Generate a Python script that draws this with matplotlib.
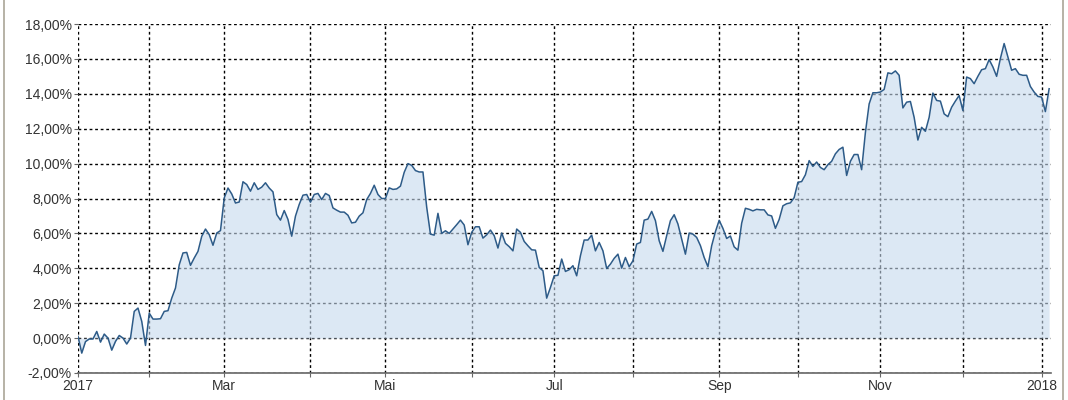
import numpy as np
import pandas as pd
import matplotlib
matplotlib.use("Agg")
import matplotlib.pyplot as plt
from matplotlib.ticker import FixedLocator, FuncFormatter
from matplotlib.lines import Line2D

plt.rcParams["font.family"] = ["Liberation Sans", "DejaVu Sans"]

# === Data: cumulative performance (%) per trading day ===
start_date = "2017-01-05"
end_date = "2018-01-03"
perf = [
    0.1, -0.86, -0.2, -0.05, -0.05, 0.38, -0.23, 0.23, 0.0, -0.69,
    -0.19, 0.15, 0.0, -0.34, 0.0, 1.53, 1.72, 0.96, -0.42, 1.43,
    1.09, 1.09, 1.11, 1.53, 1.57, 2.29, 2.87, 4.2, 4.88, 4.91,
    4.17, 4.59, 4.97, 5.83, 6.25, 5.93, 5.32, 6.02, 6.16, 8.03,
    8.6, 8.26, 7.74, 7.8, 8.96, 8.8, 8.42, 8.9, 8.52, 8.65,
    8.9, 8.6, 8.38, 7.08, 6.76, 7.31, 6.8, 5.84, 6.99, 7.66,
    8.19, 8.23, 7.79, 8.23, 8.29, 7.94, 8.29, 8.17, 7.46, 7.33,
    7.22, 7.22, 7.04, 6.6, 6.64, 6.99, 7.18, 7.94, 8.29, 8.76,
    8.23, 8.0, 8.0, 8.61, 8.52, 8.55, 8.71, 9.5, 10.0, 9.9,
    9.6, 9.52, 9.52, 7.5, 5.96, 5.9, 7.15, 6.0, 6.15, 6.0,
    6.25, 6.5, 6.76, 6.48, 5.35, 6.06, 6.38, 6.38, 5.73, 5.92,
    6.19, 5.87, 5.16, 6.02, 5.43, 5.24, 5.0, 6.25, 6.06, 5.54,
    5.29, 5.06, 5.04, 4.05, 3.86, 2.29, 2.9, 3.57, 3.6, 4.53,
    3.82, 3.92, 4.15, 3.57, 4.72, 5.62, 5.62, 5.9, 5.0, 5.48,
    5.0, 3.99, 4.24, 4.57, 4.81, 4.01, 4.62, 4.09, 4.43, 5.39,
    5.48, 6.76, 6.82, 7.26, 6.73, 5.58, 4.97, 5.87, 6.73, 7.07,
    6.54, 5.67, 4.81, 6.02, 5.96, 5.77, 5.3, 4.62, 4.09, 5.29,
    6.1, 6.75, 6.29, 5.71, 5.85, 5.23, 5.04, 6.58, 7.44, 7.38,
    7.29, 7.38, 7.35, 7.35, 7.06, 7.0, 6.29, 6.8, 7.58, 7.7,
    7.75, 8.05, 8.93, 8.97, 9.36, 10.17, 9.84, 10.09, 9.78, 9.65,
    9.94, 10.13, 10.56, 10.81, 10.94, 9.32, 10.13, 10.52, 10.52, 9.65,
    11.78, 13.42, 14.06, 14.06, 14.1, 14.25, 15.2, 15.15, 15.31, 15.06,
    13.19, 13.52, 13.56, 12.65, 11.35, 12.08, 11.85, 12.65, 14.04, 13.62,
    13.58, 12.85, 12.69, 13.23, 13.58, 13.9, 13.04, 14.96, 14.87, 14.58,
    15.0, 15.38, 15.44, 15.96, 15.54, 15.0, 16.02, 16.88, 16.12, 15.35,
    15.44, 15.12, 15.06, 15.06, 14.42, 14.1, 13.85, 13.81, 12.98, 14.29,
]
month_names = {3: "Mar", 5: "Mai", 7: "Jul", 9: "Sep", 11: "Nov"}
y_ticks = [-2, 0, 2, 4, 6, 8, 10, 12, 14, 16, 18]

days = pd.bdate_range(start_date, end_date)
x = np.arange(len(days))

# month starts -> gridlines, every second one labelled
month_idx = [i for i in range(len(days)) if i == 0 or days[i].month != days[i - 1].month]
month_lbl = []
for i in month_idx:
    d = days[i]
    if d.month == 1:
        month_lbl.append(str(d.year))
    else:
        month_lbl.append(month_names.get(d.month, ""))

# === Figure ===
fig = plt.figure(figsize=(10.68, 4.0), dpi=100)
ax = fig.add_axes([78 / 1068, 27 / 400, (1051 - 78) / 1068, (373 - 24) / 400])

ax.fill_between(x, perf, 0, color=(198 / 255, 217 / 255, 237 / 255), alpha=0.6, lw=0, zorder=2)
ax.plot(x, perf, color="#2d5b88", lw=1.1, zorder=3)

ax.set_xlim(0, 259.5)
ax.set_ylim(-2, 18)

ax.xaxis.set_major_locator(FixedLocator(month_idx))
ax.set_xticklabels(month_lbl)
ax.yaxis.set_major_locator(FixedLocator(y_ticks))
ax.yaxis.set_major_formatter(FuncFormatter(lambda v, p: f"{v:.2f}%".replace(".", ",")))

ax.set_axisbelow(True)
ax.grid(True, color="black", linestyle=(0, (2, 2)), lw=1.0)

for side in ["top", "right", "left"]:
    ax.spines[side].set_visible(False)
ax.spines["bottom"].set_color("#666666")
ax.spines["bottom"].set_linewidth(1.2)

ax.tick_params(axis="both", length=3, color="#666666", labelsize=10, labelcolor="#333333", pad=1.5)

# outer frame lines
for xf in [3.5 / 1068, 1062.5 / 1068]:
    fig.add_artist(Line2D([xf, xf], [0, 1], color="#aaa597", lw=1.2, transform=fig.transFigure))

fig.savefig("out.png", dpi=100)
